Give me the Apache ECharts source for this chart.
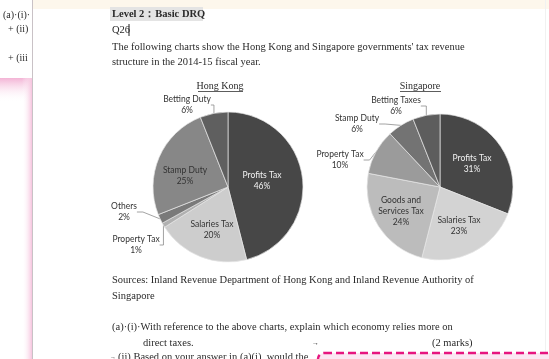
<!DOCTYPE html>
<html><head><meta charset="utf-8">
<script src="https://cdn.jsdelivr.net/npm/echarts@6/dist/echarts.min.js"></script>
<style>html,body{margin:0;padding:0;background:#fff}#c{width:549px;height:359px}</style>
</head><body><div id="c"></div>
<script>
// ---- data ----
const hkCategories = ['Profits Tax', 'Salaries Tax', 'Property Tax', 'Others', 'Stamp Duty', 'Betting Duty'];
const hkValues = [46, 20, 1, 2, 25, 6];
const sgCategories = ['Profits Tax', 'Salaries Tax', 'Goods and\nServices Tax', 'Property Tax', 'Stamp Duty', 'Betting Taxes'];
const sgValues = [31, 23, 24, 10, 6, 6];
const chartTitles = ['Hong Kong', 'Singapore'];

// ---- styles ----
const hkColors = ['#474747', '#cdcdcd', '#b0b0b0', '#7a7a7a', '#878787', '#5f5f5f'];
const sgColors = ['#474747', '#d3d3d3', '#bcbcbc', '#9b9b9b', '#737373', '#5d5d5d'];
const hkOutside = [2, 3, 5];
const sgOutside = [3, 4, 5];
const pieCenters = [[228, 187], [440, 187]];
// label anchor positions (label centres), as in the original layout
const labelPos = {
  '0-0': [262, 181], '0-1': [212, 229.5], '0-4': [185, 175.5],
  '0-2': [136, 245], '0-3': [124, 212], '0-5': [187, 105],
  '1-0': [472, 164], '1-1': [459, 226], '1-2': [401, 211],
  '1-3': [340, 160], '1-4': [357, 124], '1-5': [396, 106]
};
const serif = "'Liberation Serif', 'Times New Roman', serif";
const labelFont = 'Lato';
const docSize = 10.5;

function makeData(cats, vals, colors, outside) {
  return cats.map((c, i) => {
    const out = outside.indexOf(i) >= 0;
    return {
      name: c, value: vals[i],
      itemStyle: {color: colors[i]},
      label: {
        position: out ? 'outside' : 'inside',
        color: (i === 0) ? '#f2f2f2' : '#333333'
      },
      labelLine: {show: out}
    };
  });
}

function pieSeries(idx, radius, cats, vals, colors, outside) {
  return {
    type: 'pie', center: pieCenters[idx], radius: radius,
    startAngle: 90, clockwise: true, animation: false,
    data: makeData(cats, vals, colors, outside),
    itemStyle: {borderColor: '#e6e6e6', borderWidth: 0.7},
    label: {
      formatter: p => p.name + '\n' + p.value + '%',
      fontFamily: labelFont, fontSize: 8.5, lineHeight: 11, align: 'center'
    },
    labelLine: {length: 8, length2: 6, lineStyle: {color: '#8c8c8c', width: 0.8}},
    labelLayout: function (p) {
      const pos = labelPos[p.seriesIndex + '-' + p.dataIndex];
      if (!pos) return {};
      return {x: pos[0], y: pos[1], align: 'center', verticalAlign: 'middle'};
    },
    emphasis: {disabled: true}
  };
}

function txt(text, x, y, opts) {
  opts = opts || {};
  return {type: 'text', z: opts.z || 10, style: {
    text: text, x: x, y: y,
    font: (opts.weight || 'normal') + ' ' + (opts.size || docSize) + 'px ' + (opts.family || serif),
    fill: opts.color || '#2a2a2a', align: opts.align || 'left', verticalAlign: 'middle'
  }};
}

const graphics = [
  // left pane
  {type: 'rect', z: 1, shape: {x: 33, y: 0, width: 516, height: 9}, style: {fill: '#fdf7ec'}},
  {type: 'rect', z: 1, shape: {x: 0, y: 78, width: 32, height: 24},
   style: {fill: new echarts.graphic.LinearGradient(0, 0, 0, 1, [{offset: 0, color: '#f3b3d5'}, {offset: 1, color: 'rgba(255,255,255,0)'}])}},
  {type: 'rect', z: 1, shape: {x: 22, y: 78, width: 10, height: 281},
   style: {fill: new echarts.graphic.LinearGradient(0, 0, 1, 0, [{offset: 0, color: 'rgba(255,255,255,0)'}, {offset: 1, color: '#f6c4de'}])}},
  {type: 'line', z: 2, shape: {x1: 32.5, y1: 0, x2: 32.5, y2: 359}, style: {stroke: '#c9c2c6', lineWidth: 1}},
  {type: 'line', z: 2, shape: {x1: 545.5, y1: 0, x2: 545.5, y2: 359}, style: {stroke: '#f1f1f1', lineWidth: 1}},
  txt('(a)·(i)·', 3, 15, {size: 10}),
  txt('+ (ii)', 8, 29, {size: 10}),
  txt('+ (iii', 8, 58, {size: 10}),
  // header
  {type: 'rect', z: 1, shape: {x: 110, y: 7, width: 93, height: 14}, style: {fill: '#e4e4e4'}},
  txt('Level 2：Basic DRQ', 112, 14, {weight: 'bold'}),
  txt('Q26', 112, 30),
  {type: 'line', z: 10, shape: {x1: 129, y1: 24, x2: 129, y2: 36}, style: {stroke: '#222', lineWidth: 1}},
  txt("The following charts show the Hong Kong and Singapore governments' tax revenue", 112, 47),
  txt('structure in the 2014-15 fiscal year.', 112, 62),
  // chart titles
  txt(chartTitles[0], 220, 86, {size: 10, align: 'center'}),
  {type: 'line', z: 10, shape: {x1: 198, y1: 91.5, x2: 243, y2: 91.5}, style: {stroke: '#333', lineWidth: 0.8}},
  txt(chartTitles[1], 420, 86, {size: 10, align: 'center'}),
  {type: 'line', z: 10, shape: {x1: 400, y1: 91.5, x2: 441, y2: 91.5}, style: {stroke: '#333', lineWidth: 0.8}},
  // bottom text
  txt('Sources: Inland Revenue Department of Hong Kong and Inland Revenue Authority of', 112, 280),
  txt('Singapore', 112, 296),
  txt('(a)·(i)·With reference to the above charts, explain which economy relies more on', 112, 327),
  txt('direct taxes.', 143, 343),
  txt('→', 312, 343, {size: 7}),
  txt('(2 marks)', 432, 343),
  txt('→', 110, 357, {size: 6}),
  txt('(ii) Based on your answer in (a)(i), would the', 118, 357),
  {type: 'rect', z: 20, shape: {x: 318, y: 353, width: 250, height: 20, r: 6},
   style: {fill: '#fbe7f2', stroke: '#e6157f', lineWidth: 2.5, lineDash: [8, 4]}}
];

const chart = echarts.init(document.getElementById('c'), null, {renderer: 'canvas'});
chart.setOption({
  backgroundColor: '#ffffff',
  animation: false,
  graphic: graphics,
  series: [
    pieSeries(0, 75, hkCategories, hkValues, hkColors, hkOutside),
    pieSeries(1, 73, sgCategories, sgValues, sgColors, sgOutside)
  ]
});
</script></body></html>
